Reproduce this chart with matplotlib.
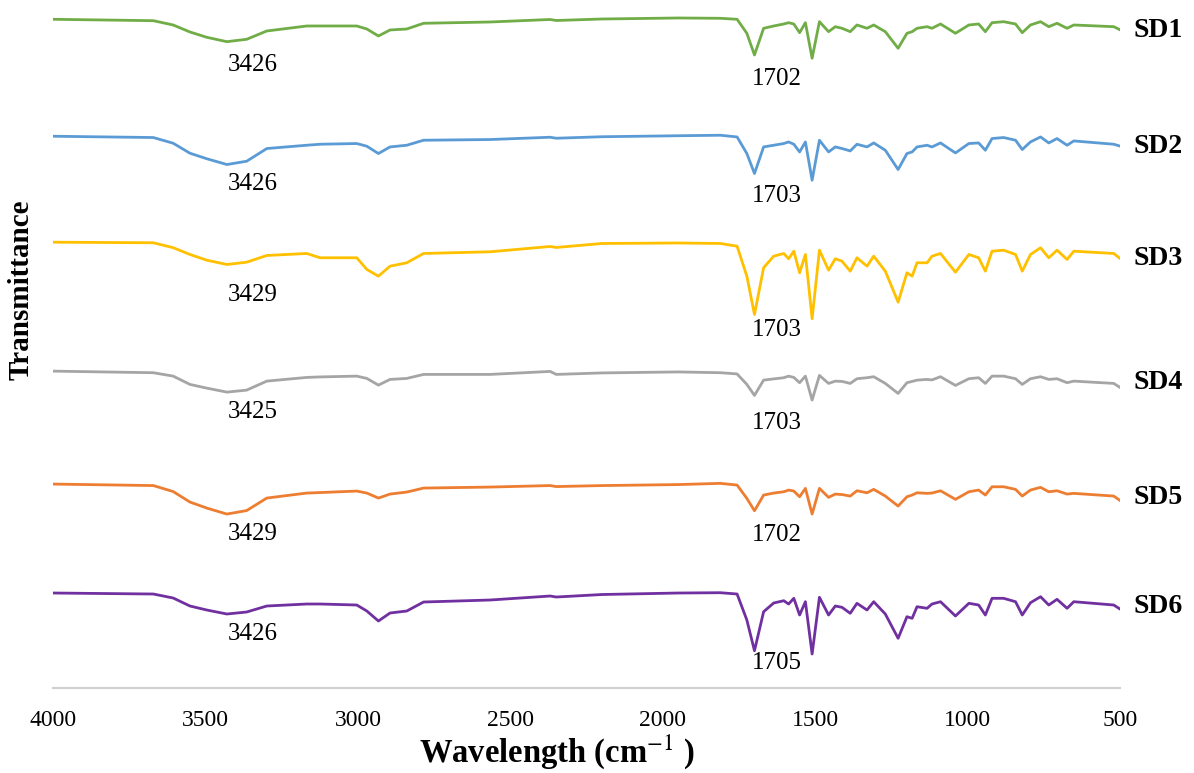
#!/usr/bin/env python3

import matplotlib
matplotlib.use('Agg')
matplotlib.rcParams.update({
    "font.family": "serif",
    "font.serif": ["Liberation Serif", "DejaVu Serif"],
    "mathtext.fontset": "stix",
})
import matplotlib.pyplot as plt


# wavenumber (cm-1) at which each trace was read
WAVENUMBERS = [
    4000, 3671, 3606, 3551, 3496, 3430, 3365, 3299, 3168, 3124, 3004, 2971,
    2933, 2895, 2840, 2785, 2567, 2370, 2350, 2200, 1950, 1812, 1757, 1725,
    1700, 1670, 1637, 1604, 1588, 1571, 1552, 1533, 1511, 1487, 1457, 1435,
    1413, 1386, 1364, 1331, 1309, 1271, 1229, 1200, 1183, 1167, 1134, 1118,
    1090, 1041, 997, 965, 943, 921, 883, 844, 822, 795, 762, 735, 708, 675,
    653, 522, 500,
]

# transmittance (a.u., 100 = plateau at 4000 cm-1)
SD1 = [
    100, 98.6, 94.3, 87.3, 82, 77.6, 80, 88.3, 93.3, 93.3, 93.3, 90.3, 83.3,
    89.3, 90.3, 96, 97.3, 99.8, 98.8, 100.3, 101.3,
    101, 100, 86, 64.3, 91, 93.3, 95.3, 96.6, 95.3, 86.6, 96.6, 61, 97.6,
    87.6, 92.6, 91, 87.6, 94.3, 91, 94.3, 87.6, 71, 86, 87.6, 91, 92.6, 91,
    95.3, 86, 94.3, 95.3, 87.6, 96.6, 97.6, 95.3, 86.6, 94.3, 97.6, 92.6, 96,
    91, 94.3, 92.6, 89.3,
]
SD2 = [
    100, 98.7, 93, 83, 77.5, 71.7, 75, 87.7, 91, 92, 92.7, 90, 82.7, 89.3,
    91, 96, 96.7, 99, 98, 99.5, 100.5,
    101, 99.3, 82.7, 62.7, 89.3, 91, 92.7, 94.3, 92, 84.3, 94.3, 56, 96,
    84.3, 89.3, 87.7, 85.3, 92, 89.3, 93.3, 86, 66.7, 82.7, 84.3, 89.3, 91,
    89.3, 93.3, 83.3, 92.7, 93.3, 86, 97.7, 98.7, 96, 86.7, 94.3, 99.3, 93.3,
    97.7, 91, 95.3, 92, 90,
]
SD3 = [
    100, 99.4, 94.5, 87.7, 82, 77.7, 80, 86.7, 88.7, 84.4, 84.4, 72.7, 66,
    76, 79.4, 88.7, 90.4, 95.7, 94.7, 98.7, 99.2,
    98.7, 96, 66, 27.7, 74.4, 86, 88.7, 83.4, 91, 69.4, 87.7, 23.4, 92, 72,
    83.4, 81, 71, 84.4, 76, 86, 71, 40, 69.4, 66, 79.4, 79.4, 86, 88.7, 70,
    87.7, 84.4, 71, 91, 92, 87.7, 71, 87.7, 94.4, 84.4, 92, 82.7, 91, 88.7,
    83.4,
]
SD4 = [
    100, 98.4, 95, 86.7, 83, 79, 81, 90, 93.7, 94.2, 95, 92.7, 86, 91.7,
    92.7, 96.7, 96.7, 99.7, 96.7, 98.2, 99.2,
    98.4, 97.2, 86.7, 75.7, 91, 92.2, 93.4, 95, 93.7, 88.4, 95, 71, 95.7,
    87.7, 90, 89.7, 87.7, 92.4, 93.4, 94.4, 87.7, 77.7, 88.4, 89.7, 91, 91.7,
    91.2, 94.4, 85.7, 92.4, 93.4, 87.7, 95, 95, 92.4, 86.7, 92.4, 94.4, 91.7,
    92.4, 88.4, 90, 87.7, 83.4,
]
SD5 = [
    100, 98.5, 92.5, 82, 76, 70, 73.5, 86, 91, 91.5, 93, 91, 86, 90, 92, 96,
    97, 98.5, 97.5, 98.5, 99.5,
    100.7, 99, 85.7, 73.3, 89, 91, 92.3, 94, 93, 87.3, 95.7, 70, 95.7, 86.7,
    90, 89.5, 88, 93.3, 91.3, 94.7, 88, 78, 87.3, 89, 91.3, 90.7, 91, 93.3,
    84.7, 92.3, 94, 89, 97.3, 97.3, 94.7, 88, 94, 96.7, 92.3, 93.3, 90, 90.7,
    88, 83.3,
]
SD6 = [
    100, 99, 95, 87, 83, 79, 81, 87, 89, 89, 88, 82, 72, 80, 82, 91, 93,
    97, 96, 98.5, 100,
    100.3, 99, 73, 42.3, 81.3, 90, 92.3, 89, 94.7, 78, 91.3, 39, 95.7, 78,
    87, 85.7, 79.7, 89.7, 83, 91.3, 79, 54.7, 76.3, 74.7, 86.3, 84.7, 89,
    91.3, 77, 89.7, 88, 78, 94.7, 94.7, 91.3, 78, 90.3, 96.3, 88, 93.7, 84.7,
    91.3, 88, 83.7,
]

SAMPLES = ['SD1', 'SD2', 'SD3', 'SD4', 'SD5', 'SD6']
SERIES = [SD1, SD2, SD3, SD4, SD5, SD6]
OH_PEAKS = [3426, 3426, 3429, 3425, 3429, 3426]
CO_PEAKS = [1702, 1703, 1703, 1703, 1702, 1705]

COLORS = ['#70ad47', '#5b9bd5', '#ffc000', '#a5a5a5', '#ed7d31', '#7030a0']
OFFSETS = [0, -117, -223, -352, -465, -574]
# label heights below each trace's plateau (a.u.)
OH_LABEL_DROP = [46, 48, 53, 41, 50, 41]
CO_LABEL_DROP = [60, 60, 88, 52, 51, 70]
NAME_DROP = [11, 10, 16, 11, 13, 13]


def main():
    fig = plt.figure(figsize=(11.94, 7.73), dpi=100)
    ax = fig.add_axes([0.0444, 0.110, 0.894, 0.890])

    for i, name in enumerate(SAMPLES):
        off = OFFSETS[i]
        y = [v + off for v in SERIES[i]]
        ax.plot(WAVENUMBERS, y, color=COLORS[i], lw=2.0, solid_joinstyle='round')
        ax.text(3344, 100 + off - OH_LABEL_DROP[i], str(OH_PEAKS[i]),
                ha='center', va='center', fontsize=18)
        ax.text(1625, 100 + off - CO_LABEL_DROP[i], str(CO_PEAKS[i]),
                ha='center', va='center', fontsize=18)
        ax.text(1.012, 100 + off - NAME_DROP[i], name,
                transform=ax.get_yaxis_transform(),
                ha='left', va='center', fontsize=20, fontweight='bold')

    ax.set_xlim(4000, 500)
    ax.set_ylim(-569, 119.3)
    ax.set_xticks([4000, 3500, 3000, 2500, 2000, 1500, 1000, 500])
    ax.set_yticks([])
    ax.tick_params(axis='x', length=0, pad=16, labelsize=17)
    for side in ['top', 'right', 'left']:
        ax.spines[side].set_visible(False)
    ax.spines['bottom'].set_color('#d0d0d0')
    ax.spines['bottom'].set_linewidth(1.5)

    ax.set_xlabel(r'Wavelength (cm$^{\mathrm{-1}}$ )', fontsize=23.5,
                  fontweight='bold', va='center')
    ax.xaxis.set_label_coords(0.472, -0.093)
    fig.text(0.018, 0.625, 'Transmittance', rotation=90, ha='center',
             va='center', fontsize=21, fontweight='bold')

    fig.savefig('out.png', dpi=100)


if __name__ == '__main__':
    main()
